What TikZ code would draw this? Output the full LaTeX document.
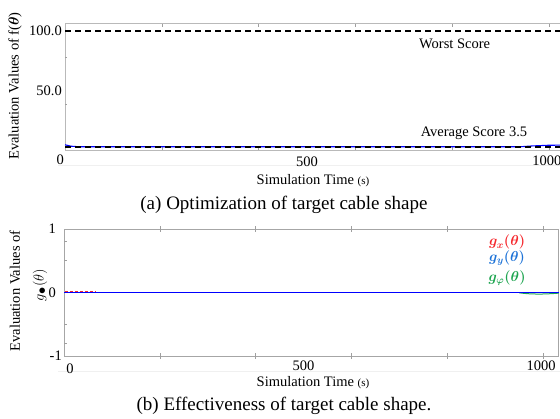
\documentclass[tikz,border=0pt]{standalone}
\usepackage{amsmath}
\usepackage{fontspec}
\setmainfont{Liberation Serif}
\usepackage{tikz}

\tikzset{
  plotframe/.style={draw=gray!55, line width=0.8pt},
  axtick/.style={draw=gray!75, line width=0.5pt},
  refline/.style={black, line width=1.4pt, dash pattern=on 6pt off 4pt},
  ticklab/.style={font=\fontsize{14.5}{16}\selectfont, inner sep=0pt},
  axlab/.style={font=\fontsize{14.5}{16}\selectfont, inner sep=0pt},
  caplab/.style={font=\fontsize{19}{22}\selectfont, inner sep=0pt},
  leglab/.style={font=\fontsize{14}{16}\selectfont\boldmath, inner sep=0pt}
}

\definecolor{gxred}{RGB}{245,40,45}
\definecolor{gyblue}{RGB}{30,115,215}
\definecolor{gphigreen}{RGB}{30,165,80}

\begin{document}
\begin{tikzpicture}[x=1pt,y=-1pt]
  \useasboundingbox (0,0) rectangle (560,419);

  % faint screenshot borders
  \draw[gray!12] (58,165) -- (560,165);
  \draw[gray!12] (58,371) -- (560,371);

  % ---------- (a) optimization of f(theta)
  \begin{scope}[shift={(65,150)},x=0.484pt,y=1.19pt]
    \draw[plotframe] (0,0) rectangle (1040,106);
    % ticks
    \foreach \t in {200,400,...,1000} {
      \draw[axtick] (\t,106) -- (\t,103.5);
      \draw[axtick] (\t,0) -- (\t,2.5);
    }
    \foreach \v in {38.5,78} {
      \draw[axtick] (0,\v) -- (5,\v);
    }
    % mean curve
    \draw[blue, line width=1.1pt] (0,4.4) -- (12,3.2) -- (30,2.7) -- (940,2.7)
      -- (965,3.4) -- (1000,4.0) -- (1040,4.1);
    % reference levels
    \draw[refline] (0,100) -- (1040,100);
    \draw[refline] (0,2.6) -- (1040,2.6);
    % tick labels
    \node[ticklab, anchor=east] (ya100) at ([xshift=-3pt]0,100) {100.0};
    \node[ticklab, anchor=east] (ya50) at ([xshift=-3pt]0,50) {50.0};
    \node[ticklab, anchor=base east] (xa0) at ([xshift=-1pt,yshift=-15pt]0,0) {0};
    \node[ticklab, anchor=base] (xa500) at ([yshift=-17pt]500,0) {500};
    \node[ticklab, anchor=base] (xa1000) at ([xshift=-2pt,yshift=-16pt]1000,0) {1000};
    % level names
    \node[axlab] (worst) at (805,89) {Worst Score};
    \node[axlab] (avg) at (845,14) {Average Score 3.5};
  \end{scope}

  \node[axlab, rotate=90] (ylaba) at (15,86) {Evaluation Values of f({\boldmath$\theta$})};
  \node[axlab] (xlaba) at (313,181) {Simulation Time {\fontsize{11}{12}\selectfont(s)}};
  \node[caplab] (capa) at (284,205) {(a) Optimization of target cable shape};

  % ---------- (b) effectiveness g(theta)
  \begin{scope}[shift={(64,292.5)},x=0.479pt,y=63.5pt]
    \draw[plotframe, draw=gray!70] (0,-1) rectangle (1033,1);
    % ticks
    \foreach \t in {200,400,...,1000} {
      \draw[axtick] (\t,1.04) -- (\t,0.96);
      \draw[axtick] (\t,-1.04) -- (\t,-0.96);
    }
    \foreach \v in {0.8,0.5,-0.5,-0.8} {
      \draw[axtick] (0,\v) -- (6,\v);
    }
    % components
    \draw[gxred, line width=1pt, dash pattern=on 3pt off 2pt] (2,0.012) -- (65,0.012);
    \draw[gphigreen, line width=1pt] (950,-0.005) .. controls (975,-0.03) and (1000,-0.03) .. (1033,-0.01);
    \draw[blue, line width=1.2pt] (0,0) -- (1033,0);
    % tick labels
    \node[ticklab, anchor=east] (yb1) at ([xshift=-8pt]0,1) {1};
    \node[ticklab, anchor=east] (yb0) at ([xshift=-8pt]0,0) {0};
    \node[ticklab, anchor=east] (ybm1) at ([xshift=-2pt]0,-1) {-1};
    \node[ticklab, anchor=base] (xb0) at ([xshift=6pt,yshift=-18pt]0,-1) {0};
    \node[ticklab, anchor=base] (xb500) at ([yshift=-15pt]500,-1) {500};
    \node[ticklab, anchor=base] (xb1000) at ([xshift=-2pt,yshift=-15pt]1000,-1) {1000};
    % legend
    \node[leglab, text=gxred] (lgx) at (925,0.79) {$g_x(\theta)$};
    \node[leglab, text=gyblue] (lgy) at (925,0.54) {$g_y(\theta)$};
    \node[leglab, text=gphigreen] (lgphi) at (925,0.23) {$g_\varphi(\theta)$};
  \end{scope}

  \node[axlab, rotate=90] (ylabb) at (15,291) {Evaluation Values of};
  \node[axlab, rotate=90] (ylabg) at (40,285) {$g_{\displaystyle\bullet}(\theta)$};
  \node[axlab] (xlabb) at (313,383) {Simulation Time {\fontsize{11}{12}\selectfont(s)}};
  \node[caplab] (capb) at (284,406) {(b) Effectiveness of target cable shape.};
\end{tikzpicture}
\end{document}
